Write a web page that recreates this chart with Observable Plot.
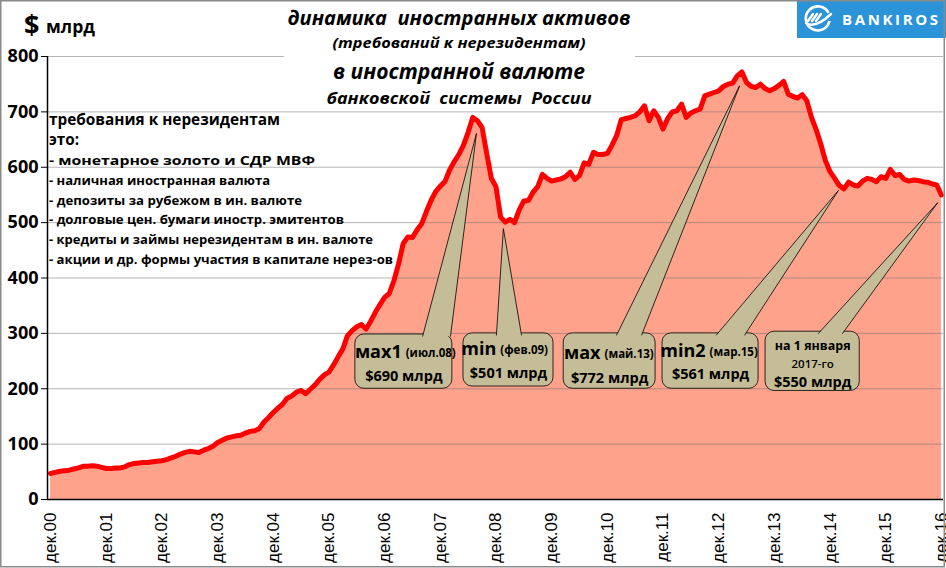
<!DOCTYPE html>
<html>
<head>
<meta charset="utf-8">
<script src="https://cdn.jsdelivr.net/npm/d3@7"></script>
<script src="https://cdn.jsdelivr.net/npm/@observablehq/plot@0.6"></script>
<style>
  html, body { margin: 0; padding: 0; background: white; }
  #wrap { position: relative; width: 946px; height: 568px; overflow: hidden; }
  #wrap > svg { position: absolute; left: 0; top: 0; }
</style>
</head>
<body>
<div id="wrap"></div>
<script>
// ---------- DATA ----------
// Foreign-currency assets of the Russian banking system, $ bn, monthly, month 0 = Dec 2000 ... month 192 = Dec 2016 (1 Jan 2017)
const assets = [
  47, 49, 51, 52, 53, 55, 57, 60, 60, 61, 60, 58,          // 0-11
  56, 56, 57, 57, 59, 63, 65, 66, 67, 67, 68, 69,          // 12-23
  70, 72, 75, 78, 82, 85, 87, 86, 85, 89, 92, 96,          // 24-35
  103, 107, 111, 113, 115, 116, 120, 123, 124, 128, 140, 148, // 36-47
  157, 165, 172, 183, 187, 194, 197, 191, 199, 207, 217, 225, // 48-59
  230, 243, 258, 272, 296, 305, 312, 316, 308, 322, 338, 352, // 60-71
  365, 372, 395, 425, 462, 474, 473, 487, 498, 520, 540, 556, // 72-83
  566, 574, 595, 610, 623, 640, 663, 690, 684, 672, 625, 580, // 84-95
  565, 510, 501, 506, 500, 523, 539, 540, 555, 565, 587, 580, // 96-107
  575, 577, 579, 583, 591, 578, 585, 608, 605, 627, 623, 623, // 108-119
  625, 640, 657, 686, 688, 690, 693, 700, 711, 684, 702, 690, // 120-131
  669, 688, 700, 702, 714, 690, 698, 702, 705, 729, 732, 735, // 132-143
  738, 746, 750, 752, 765, 772, 753, 746, 744, 750, 742, 738, // 144-155
  742, 748, 755, 732, 728, 725, 731, 720, 690, 668, 642, 612, // 156-167
  592, 580, 567, 561, 573, 568, 566, 575, 580, 578, 574, 583, // 168-179
  580, 596, 585, 587, 578, 575, 577, 576, 574, 573, 570, 568, // 180-191
  550                                                      // 192
];
const yTicks = [0, 100, 200, 300, 400, 500, 600, 700, 800];
const xTickMonths = [0, 12, 24, 36, 48, 60, 72, 84, 96, 108, 120, 132, 144, 156, 168, 180, 192];
const xTickLabels = ["дек.00","дек.01","дек.02","дек.03","дек.04","дек.05","дек.06","дек.07",
                     "дек.08","дек.09","дек.10","дек.11","дек.12","дек.13","дек.14","дек.15","дек.16"];

// callouts
const calloutTitle  = ["мах1", "min", "мах", "min2"];
const calloutDate   = ["(июл.08)", "(фев.09)", "(май.13)", "(мар.15)"];
const calloutAmount = ["$690 млрд", "$501 млрд", "$772 млрд", "$561 млрд", "$550 млрд"];
const lastTitle = ["на 1 января", "2017-го"];

// text block
const titleLines = ["динамика  иностранных активов", "(требований к нерезидентам)", "в иностранной валюте", "банковской  системы  России"];
const unitSign = "$";
const unitText = "млрд";
const noteHead = ["требования к нерезидентам", "это:"];
const noteItems = [
  "- монетарное золото и СДР МВФ",
  "- наличная иностранная валюта",
  "- депозиты за рубежом в ин. валюте",
  "- долговые цен. бумаги иностр. эмитентов",
  "- кредиты и займы нерезидентам в ин. валюте",
  "- акции и др. формы участия в капитале нерез-ов"
];

// ---------- LAYOUT (annotation placement, in data units) ----------
const boxX1 = [65.7, 89.0, 110.6, 131.9, 154.1];
const boxX2 = [86.6, 108.4, 130.4, 152.6, 174.4];
const boxTop = [298, 300, 300, 300, 303];
const boxBottom = [200, 204, 200, 200, 196];
const ptrBaseL = [80.2, 96.1, 122.0, 143.5, 165.5];
const ptrBaseR = [86.2, 101.5, 127.4, 149.6, 170.7];
const ptrTipX = [91.8, 97.6, 148.5, 169.8, 191.2];
const ptrTipY = [661, 489, 747, 558, 536];
const splitX = [75.9, 96.3, 118.75, 141.4];
const dyLine1 = [-9, -11, -8, -10];
const dyLine2 = [15, 13, 17, 13];

// ---------- BUILD ----------
const series = assets.map((v, m) => ({m, v}));
const xDomain = [-0.65, 192.45];
const FONT = "'Open Sans', 'DejaVu Sans', sans-serif";
const TAN = "#c4bd97";

const boxes = boxX1.map((x1, i) => ({x1, x2: boxX2[i], y1: boxBottom[i], y2: boxTop[i],
  cx: (x1 + boxX2[i]) / 2, cy: (boxTop[i] + boxBottom[i]) / 2}));
const pointerPts = [];
boxes.forEach((b, i) => {
  const baseY = boxTop[i] - 3;
  pointerPts.push({id: i, x: ptrBaseL[i], y: baseY});
  pointerPts.push({id: i, x: ptrTipX[i], y: ptrTipY[i]});
  pointerPts.push({id: i, x: ptrBaseR[i], y: baseY});
});
const lbl = calloutTitle.map((t, i) => ({t, d: calloutDate[i], a: calloutAmount[i], sx: splitX[i],
  cx: boxes[i].cx, cy: boxes[i].cy, dy1: dyLine1[i], dy2: dyLine2[i]}));
const last = boxes[4];

const textMarks = [];
lbl.forEach(l => {
  textMarks.push(Plot.text([l], {x: "sx", y: "cy", text: "t", textAnchor: "end", dx: -1, dy: l.dy1, fontSize: 18, fontWeight: "bold", fontFamily: FONT}));
  textMarks.push(Plot.text([l], {x: "sx", y: "cy", text: "d", textAnchor: "start", dx: 3, dy: l.dy1 + 1, fontSize: 11.5, fontWeight: "bold", fontFamily: FONT}));
  textMarks.push(Plot.text([l], {x: "cx", y: "cy", text: "a", dy: l.dy2, fontSize: 14.5, fontWeight: "bold", fontFamily: FONT}));
});
textMarks.push(Plot.text([last], {x: "cx", y: "cy", text: () => lastTitle[0], dy: -15, fontSize: 12.5, fontWeight: "bold", fontFamily: FONT}));
textMarks.push(Plot.text([last], {x: "cx", y: "cy", text: () => lastTitle[1], dy: 3, fontSize: 11.5, fontWeight: "600", fontFamily: FONT}));
textMarks.push(Plot.text([last], {x: "cx", y: "cy", text: () => calloutAmount[4], dy: 21, fontSize: 14.5, fontWeight: "bold", fontFamily: FONT}));

const chart = Plot.plot({
  width: 946,
  height: 568,
  marginLeft: 47,
  marginRight: 3,
  marginTop: 56,
  marginBottom: 69,
  x: {domain: xDomain, axis: null},
  y: {domain: [0, 800], axis: null},
  style: {fontFamily: FONT, color: "black", background: "white", overflow: "visible"},
  marks: [
    Plot.areaY(series, {x: "m", y: "v", fill: "#ffa28c"}),
    Plot.gridY({ticks: yTicks.slice(1), stroke: "#6e6e6e", strokeOpacity: 0.5, strokeWidth: 1}),
    Plot.lineY(series, {x: "m", y: "v", stroke: "#ff0000", strokeWidth: 5, strokeLinejoin: "round", strokeLinecap: "round"}),
    Plot.ruleY([0], {stroke: "black", strokeWidth: 1.5}),
    Plot.ruleX([xDomain[0]], {stroke: "black", strokeWidth: 1.5}),
    Plot.axisY({ticks: yTicks, tickSize: 6, tickPadding: 3, fontSize: 18, fontWeight: "bold",
      fontFamily: FONT, label: null, tickFormat: d => String(d)}),
    Plot.axisX({ticks: xTickMonths, tickFormat: d => xTickLabels[xTickMonths.indexOf(d)],
      tickRotate: -90, tickSize: 0, tickPadding: 13, fontSize: 17,
      fontFamily: "'Liberation Sans', Arial, sans-serif", label: null}),
    Plot.rect(boxes, {x1: "x1", x2: "x2", y1: "y1", y2: "y2", fill: TAN, stroke: "black", strokeWidth: 0.8, rx: 9, ry: 9}),
    Plot.line(pointerPts, {x: "x", y: "y", z: "id", fill: TAN, stroke: "black", strokeWidth: 0.8}),
    ...textMarks
  ]
});
document.getElementById("wrap").appendChild(chart);

// ---------- OVERLAY (titles, notes, logo, frame) ----------
const NS = "http://www.w3.org/2000/svg";
const ov = d3.select("#wrap").append("svg")
  .attr("xmlns", NS).attr("width", 946).attr("height", 568)
  .style("pointer-events", "none");

ov.append("rect").attr("x", 284).attr("y", 2).attr("width", 351).attr("height", 105).attr("fill", "white");

const titleSpecs = [
  {y: 25, size: 19.5, len: 343},
  {y: 48, size: 14.5, len: 253},
  {y: 79, size: 20.5, len: 252},
  {y: 104, size: 16.5, len: 265}
];
titleLines.forEach((t, i) => {
  const s = titleSpecs[i];
  ov.append("text").attr("x", 459).attr("y", s.y).attr("text-anchor", "middle")
    .attr("font-family", FONT).attr("font-style", "italic").attr("font-weight", "bold")
    .attr("font-size", s.size).attr("textLength", s.len).attr("lengthAdjust", "spacingAndGlyphs")
    .style("white-space", "pre")
    .text(t);
});

ov.append("text").attr("x", 24).attr("y", 34).attr("font-family", FONT).attr("font-weight", "bold")
  .attr("font-size", 27).text(unitSign);
ov.append("text").attr("x", 46).attr("y", 33).attr("font-family", FONT).attr("font-weight", "bold")
  .attr("font-size", 18).attr("textLength", 49).attr("lengthAdjust", "spacingAndGlyphs").text(unitText);

const headSpecs = [{y: 125, len: 231}, {y: 145, len: 30}];
noteHead.forEach((t, i) => {
  ov.append("text").attr("x", 49).attr("y", headSpecs[i].y).attr("font-family", FONT).attr("font-weight", "bold")
    .attr("font-size", 15.5).attr("textLength", headSpecs[i].len).attr("lengthAdjust", "spacingAndGlyphs").text(t);
});
const itemLens = [266, 221, 253, 295, 324, 344];
noteItems.forEach((t, i) => {
  ov.append("text").attr("x", 49).attr("y", 165 + 19.8 * i).attr("font-family", FONT).attr("font-weight", "bold")
    .attr("font-size", 13).attr("textLength", itemLens[i]).attr("lengthAdjust", "spacingAndGlyphs").text(t);
});

// logo
const logo = ov.append("g");
logo.append("rect").attr("x", 797).attr("y", 0).attr("width", 149).attr("height", 38).attr("fill", "#2b93d8");
logo.append("path").attr("d", "M 828.5 13 A 12 12 0 1 0 829.5 21").attr("fill", "none").attr("stroke", "white").attr("stroke-width", 2.6);
logo.append("path").attr("d", "M 806 23 Q 815 29 831 14 M 808 21 L 813 14 M 812 21 L 817 14 M 816 21 L 821 14")
  .attr("fill", "none").attr("stroke", "white").attr("stroke-width", 2.4).attr("stroke-linecap", "round");
logo.append("text").attr("x", 842).attr("y", 25).attr("font-family", FONT).attr("font-weight", "bold")
  .attr("font-size", 15).attr("fill", "white").attr("textLength", 96).attr("lengthAdjust", "spacing").text("BANKIROS");

// frame
ov.append("rect").attr("x", 0.75).attr("y", 0.75).attr("width", 943.5).attr("height", 566)
  .attr("fill", "none").attr("stroke", "#8a8a8a").attr("stroke-width", 1.5);
</script>
</body>
</html>
